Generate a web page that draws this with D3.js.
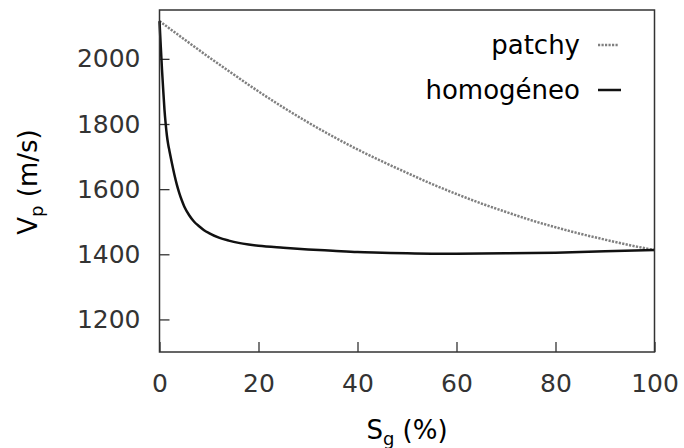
<!DOCTYPE html>
<html>
<head>
<meta charset="utf-8">
<script src="https://cdn.jsdelivr.net/npm/d3@7"></script>
<style>
  body { margin: 0; background: #fff; }
  text { font-family: "DejaVu Sans", sans-serif; }
</style>
</head>
<body>
<div id="chart"></div>
<script>
let svgWidth = 684;
let svgHeight = 448;
let margin = { top: 10, right: 29.5, bottom: 96, left: 159.5 };
let width = svgWidth - margin.left - margin.right;
let height = svgHeight - margin.top - margin.bottom;

// Data
let sgPatchy = [0, 5, 10, 15, 20, 25, 30, 35, 40, 45, 50, 55, 60, 65, 70, 75, 80, 85, 90, 95, 100];
let vpPatchy = [2116, 2060, 2005, 1952, 1900, 1851, 1805, 1762, 1722, 1685, 1650, 1616, 1585, 1556, 1530, 1505, 1483, 1463, 1445, 1428, 1413];

let sgHomog = [0, 0.25, 0.5, 0.75, 1, 1.25, 1.5, 1.75, 2, 2.5, 3, 3.5, 4, 4.5, 5, 6, 7, 8, 9, 10, 12, 14, 16, 18, 20, 25, 30, 35, 40, 45, 50, 55, 60, 70, 80, 90, 100];
let vpHomog = [2116, 2040, 1968, 1905, 1845, 1800, 1764, 1738, 1718, 1680, 1645, 1614, 1588, 1566, 1547, 1520, 1500, 1486, 1474, 1465, 1451, 1442, 1435, 1430, 1426, 1420, 1415, 1411, 1407, 1405, 1403, 1402, 1402, 1403, 1405, 1409, 1413];

let xTicks = [0, 20, 40, 60, 80, 100];
let yTicks = [1200, 1400, 1600, 1800, 2000];
let legendLabels = ["patchy", "homogéneo"];

let svg = d3.select("#chart").append("svg").attr("width", svgWidth).attr("height", svgHeight);
let chartGroup = svg.append("g").attr("transform", `translate(${margin.left}, ${margin.top})`);

let xScale = d3.scaleLinear().domain([0, 100]).range([0, width]);
let yScale = d3.scaleLinear().domain([1100, 2150]).range([height, 0]);

// Axes (inward ticks, no domain line; frame drawn separately)
let xAxis = chartGroup.append("g")
  .attr("transform", `translate(0, ${height})`)
  .call(d3.axisBottom(xScale).tickValues(xTicks).tickSizeInner(-10).tickSizeOuter(0).tickPadding(22));

let yAxis = chartGroup.append("g")
  .call(d3.axisLeft(yScale).tickValues(yTicks).tickFormat(d3.format("d")).tickSizeInner(-10).tickSizeOuter(0).tickPadding(19));

[xAxis, yAxis].forEach(ax => {
  ax.select(".domain").remove();
  ax.selectAll("line").attr("stroke", "#333").attr("stroke-width", 1.3);
  ax.selectAll("text").attr("fill", "#333").style("font-size", "25px").style("font-family", "DejaVu Sans");
});

// Lines
let line = d3.line().x(d => xScale(d[0])).y(d => yScale(d[1])).curve(d3.curveMonotoneX);

chartGroup.append("path")
  .datum(sgPatchy.map((s, i) => [s, vpPatchy[i]]))
  .attr("fill", "none")
  .attr("stroke", "#808080")
  .attr("stroke-width", 2.5)
  .attr("stroke-dasharray", "2.2,1.3")
  .attr("d", line);

chartGroup.append("path")
  .datum(sgHomog.map((s, i) => [s, vpHomog[i]]))
  .attr("fill", "none")
  .attr("stroke", "#111")
  .attr("stroke-width", 2.5)
  .attr("d", line);

// Frame
chartGroup.append("rect")
  .attr("x", 0).attr("y", 0)
  .attr("width", width).attr("height", height)
  .attr("fill", "none")
  .attr("stroke", "#333")
  .attr("stroke-width", 1.5);

// Legend
let legend = svg.append("g");
let legendY = [45, 90];
legendLabels.forEach((lab, i) => {
  legend.append("text")
    .attr("x", 580).attr("y", legendY[i])
    .attr("dy", "0.35em")
    .attr("text-anchor", "end")
    .style("font-size", "26px")
    .attr("fill", "#000")
    .text(lab);
  legend.append("line")
    .attr("x1", 598).attr("x2", i == 0 ? 619 : 621)
    .attr("y1", legendY[i]).attr("y2", legendY[i])
    .attr("stroke", i == 0 ? "#808080" : "#111")
    .attr("stroke-width", 2.5)
    .attr("stroke-dasharray", i == 0 ? "2.2,1.3" : null);
});

// Axis labels
let xLabel = svg.append("text")
  .attr("x", margin.left + width / 2)
  .attr("y", 439)
  .attr("text-anchor", "middle")
  .style("font-size", "26px")
  .attr("fill", "#000");
xLabel.append("tspan").text("S");
xLabel.append("tspan").attr("dy", 6).style("font-size", "18px").text("g");
xLabel.append("tspan").attr("dy", -6).text(" (%)");

let yLabel = svg.append("text")
  .attr("transform", `translate(37, 182) rotate(-90)`)
  .attr("text-anchor", "middle")
  .style("font-size", "26px")
  .attr("fill", "#000");
yLabel.append("tspan").text("V");
yLabel.append("tspan").attr("dy", 6).style("font-size", "18px").text("p");
yLabel.append("tspan").attr("dy", -6).text(" (m/s)");
</script>
</body>
</html>
